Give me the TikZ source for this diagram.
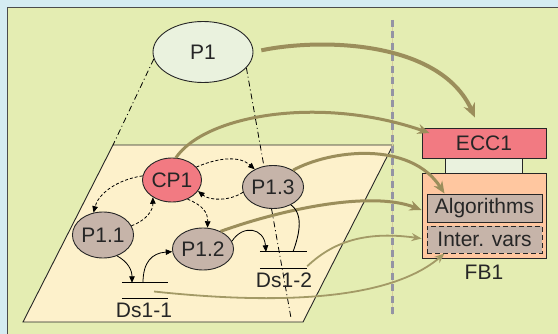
\documentclass[tikz,border=0pt]{standalone}
\usepackage{fontspec}
\setmainfont{Liberation Sans}
\usetikzlibrary{shapes.geometric,arrows.meta}
\definecolor{bgblue}{HTML}{D5ECF2}
\definecolor{panel}{HTML}{E4EDB2}
\definecolor{para}{HTML}{FDF1CB}
\definecolor{paleg}{HTML}{EAF2DE}
\definecolor{salmon}{HTML}{F27A82}
\definecolor{greyb}{HTML}{C6B4A9}
\definecolor{peach}{HTML}{FFC7A0}
\definecolor{olive}{HTML}{9B8E5B}
\definecolor{olivel}{HTML}{A39A66}
\definecolor{txt}{HTML}{262626}
\definecolor{sep}{HTML}{9494A4}
\definecolor{septan}{HTML}{D6CDA0}
\pgfdeclarelayer{bg}
\pgfdeclarelayer{back}
\pgfsetlayers{bg,back,main}
\tikzset{
  proc/.style={ellipse, draw=black!85, line width=0.9pt, inner sep=0pt, text=txt},
  boxn/.style={rectangle, draw=black!85, line width=0.9pt, inner sep=0pt, text=txt},
  flowa/.style={draw=olive, line width=3pt, -{Stealth[length=12pt,width=10pt]}},
  flowb/.style={draw=olivel, line width=1.8pt, -{Stealth[length=10pt,width=8pt]}},
  blk/.style={draw=black, line width=0.8pt, -{Triangle[length=6.5pt,width=5.5pt]}},
  blkd/.style={draw=black, line width=0.8pt, dash pattern=on 3pt off 2pt, -{Triangle[length=6.5pt,width=5.5pt]}},
  dashdot/.style={draw=black, line width=0.8pt, dash pattern=on 6pt off 3pt on 1pt off 3pt},
  dsline/.style={draw=black, line width=0.9pt}
}
\begin{document}
\begin{tikzpicture}[x=1pt,y=-1pt, font=\fontsize{21}{25}\selectfont]
\useasboundingbox (0,0) rectangle (558,334);

% nodes
\node[proc, fill=paleg, minimum width=100pt, minimum height=61pt] (p1) at (203,52) {P1};
\node[proc, fill=salmon, minimum width=59pt, minimum height=44pt] (cp1) at (172,180) {CP1};
\node[proc, fill=greyb, minimum width=60pt, minimum height=43pt] (p13) at (273,187) {P1.3};
\node[proc, fill=greyb, minimum width=60pt, minimum height=46pt] (p11) at (103,235) {P1.1};
\node[proc, fill=greyb, minimum width=59pt, minimum height=42pt] (p12) at (203,249) {P1.2};

\node[boxn, fill=salmon, minimum width=124pt, minimum height=30pt] (ecc) at (484,143) {ECC1};
\node[boxn, fill=paleg, minimum width=77pt, minimum height=15pt] (lnk) at (483.5,165.5) {};
\node[boxn, fill=peach, minimum width=124pt, minimum height=85pt] (fb) at (484,215.5) {};
\node[boxn, fill=greyb, minimum width=115pt, minimum height=28pt] (alg) at (484.5,208) {Algorithms};
\node[boxn, fill=greyb, dash pattern=on 5pt off 3pt, minimum width=115pt, minimum height=27pt] (iv) at (484.5,239.5) {Inter. vars};
\node[text=txt, inner sep=0pt] (fbl) at (484,272) {FB1};

% data stores
\node[minimum width=46pt, minimum height=15pt, inner sep=0pt] (ds1) at (145,290.5) {};
\draw[dsline] (ds1.north west) -- (ds1.north east) (ds1.south west) -- (ds1.south east);
\node[text=txt, inner sep=0pt] (ds1l) at (144,310) {Ds1-1};
\node[minimum width=47pt, minimum height=16pt, inner sep=0pt] (ds2) at (283.5,260) {};
\draw[dsline] (ds2.north west) -- (ds2.north east) (ds2.south west) -- (ds2.south east);
\node[text=txt, inner sep=0pt] (ds2l) at (284,280) {Ds1-2};

\coordinate (parTL) at (113,145);
\coordinate (ddend) at (291,318);
\coordinate (septop) at (392,20);
\coordinate (sepbot) at (392,315);

\begin{pgfonlayer}{bg}
\fill[bgblue] (0,0) rectangle (558,334);
\fill[panel] (7,7.5) rectangle (560,336);
\draw[black!70, line width=0.9pt] (7,336) -- (7,7.5) -- (560,7.5);
\draw[fill=para, draw=black!85, line width=0.9pt] (parTL) -- (393,145) -- (303,322) -- (23,322) -- cycle;
\end{pgfonlayer}

\begin{pgfonlayer}{back}
\draw[dashdot] (p1.188) -- (parTL);
\draw[dashdot] (p1.340) -- (ddend);
\draw[septan, line width=0.8pt] (septop) -- (sepbot);
\draw[sep, line width=3pt, dash pattern=on 7pt off 4.5pt] (septop) -- (sepbot);
\end{pgfonlayer}

% olive flows
\draw[flowa, line width=4pt, -{Stealth[length=14pt,width=12pt]}, shorten <=8pt] (p1.east) .. controls (320,38) and (440,40) .. ([xshift=-9pt,yshift=10pt]ecc.north);
\draw[flowa] (cp1.80) .. controls (205,115) and (320,95) .. ([xshift=8pt,yshift=10pt]ecc.west);
\draw[flowa] (p13.40) .. controls (330,150) and (410,140) .. ([xshift=-40pt]alg.north);
\draw[flowa] (p12.45) .. controls (280,210) and (370,190) .. ([xshift=-5pt,yshift=-2pt]alg.west);
\draw[flowb] ([yshift=2pt]ds2.south east) .. controls (330,245) and (360,230) .. ([xshift=-5pt,yshift=1pt]iv.west);
\draw[flowb] ([xshift=9pt,yshift=-1pt]ds1.center) .. controls (280,305) and (390,300) .. ([xshift=-40pt]iv.south);

% black flows
\draw[blk] (p11.-56) .. controls (128,262) and (132,270) .. ([xshift=-13pt]ds1.north);
\draw[blk] ([xshift=-2pt]ds1.north) .. controls (143,262) and (152,253) .. (p12.185);
\draw[blk] (p12.15) .. controls (243,224) and (264,228) .. ([xshift=-17.5pt]ds2.north);
\draw[dsline] (p13.-45) .. controls (305,215) and (298,238) .. ([xshift=9.5pt]ds2.north);

% dashed control flows
\draw[blkd] (cp1.28) .. controls (220,157) and (240,156) .. (p13.136);
\draw[blkd] (p13.190) .. controls (230,201) and (210,201) .. (cp1.-23);
\draw[blkd] (cp1.172) .. controls (115,180) and (98,195) .. (p11.113);
\draw[blkd] (p11.18) .. controls (147,220) and (153,210) .. (cp1.-138);
\draw[blkd] (cp1.-51) .. controls (202,205) and (208,212) .. (p12.78);
\end{tikzpicture}
\end{document}
